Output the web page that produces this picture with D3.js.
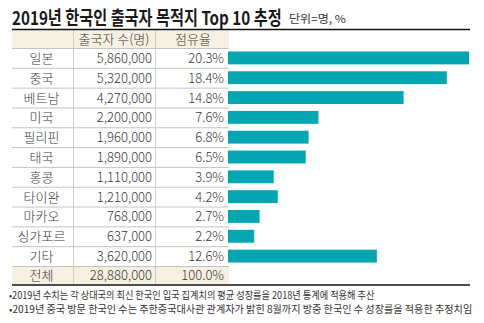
<!DOCTYPE html>
<html><head><meta charset="utf-8">
<script src="https://cdn.jsdelivr.net/npm/d3@7"></script>
<style>
body{margin:0;background:#fff;}
svg{display:block;font-family:"Noto Sans CJK KR","Noto Sans",sans-serif;}
</style></head><body>
<svg id="c" width="484" height="323"></svg>
<script>
const categories = ["일본","중국","베트남","미국","필리핀","태국","홍콩","타이완","마카오","싱가포르","기타"];
const counts = [5860000,5320000,4270000,2200000,1960000,1890000,1110000,1210000,768000,637000,3620000];
const shares = ["20.3%","18.4%","14.8%","7.6%","6.8%","6.5%","3.9%","4.2%","2.7%","2.2%","12.6%"];
const totalLabel = "전체";
const totalCount = "28,880,000";
const totalShare = "100.0%";
const headers = ["출국자 수(명)","점유율"];
const title = "2019년 한국인 출국자 목적지 Top 10 추정";
const unit = "단위=명, %";
const notes = ["•2019년 수치는 각 상대국의 최신 한국인 입국 집계치의 평균 성장률을 2018년 통계에 적용해 추산",
               "•2019년 중국 방문 한국인 수는 주한중국대사관 관계자가 밝힌 8월까지 방중 한국인 수 성장률을 적용한 추정치임"];

const svg = d3.select("#c");
const fmt = d3.format(",");
const L = 12, C1 = 73, C2 = 155, T = 229, R = 470;
const headTop = 30, bodyTop = 48, bodyBot = 266, totBot = 284;

const rowBand = d3.scaleBand().domain(categories).range([bodyTop, bodyBot]);
const barBand = d3.scaleBand().domain(categories).range([bodyTop, bodyBot]).paddingInner(0.35).paddingOuter(0.175);
const x = d3.scaleLinear().domain([0, d3.max(counts)]).range([T - 1, R - 1]);

// condensed text: scale horizontally to a target width
function fitText(sel, x0, y0, w) {
  const n = sel.node().getComputedTextLength();
  const k = w / n;
  sel.attr("x", 0).attr("y", 0).attr("transform", `translate(${x0},${y0}) scale(${k},1)`);
  return sel;
}

// title
fitText(svg.append("text").attr("font-size", 19).attr("font-weight", 700).attr("fill", "#1a1a1a").text(title), L, 24.5, 270);
fitText(svg.append("text").attr("font-size", 11).attr("fill", "#333").text(unit), 289, 23, 57);

// header & total backgrounds
svg.append("rect").attr("x", L).attr("y", headTop).attr("width", T - L).attr("height", bodyTop - headTop).attr("fill", "#f5f0e1");
svg.append("rect").attr("x", L).attr("y", bodyBot).attr("width", T - L).attr("height", totBot - bodyBot).attr("fill", "#f5f0e1");

// row separators
const seps = categories.map(c => rowBand(c));
seps.push(bodyBot);
svg.selectAll("line.rs").data(seps).join("line").attr("class", "rs")
  .attr("x1", L).attr("x2", T).attr("y1", d => d + 0.5).attr("y2", d => d + 0.5)
  .attr("stroke", "#b5b5b5").attr("stroke-width", 0.8);
// column separators
svg.selectAll("line.cs").data([C1, C2]).join("line").attr("class", "cs")
  .attr("x1", d => d + 0.5).attr("x2", d => d + 0.5).attr("y1", headTop).attr("y2", totBot)
  .attr("stroke", "#c4c4c4").attr("stroke-width", 0.8);

// top & bottom rules
svg.append("line").attr("x1", L).attr("x2", R).attr("y1", headTop - 0.5).attr("y2", headTop - 0.5).attr("stroke", "#111").attr("stroke-width", 1.3);
svg.append("line").attr("x1", L).attr("x2", R).attr("y1", totBot + 1).attr("y2", totBot + 1).attr("stroke", "#111").attr("stroke-width", 1.3);

// header text
const tf = {size: 13, fill: "#3a3a3a"};
svg.append("text").attr("x", (C1 + C2) / 2).attr("y", 44).attr("text-anchor", "middle").attr("font-size", tf.size).attr("fill", tf.fill).attr("font-weight", 300).text(headers[0]);
svg.append("text").attr("x", (C2 + T) / 2 + 1).attr("y", 44).attr("text-anchor", "middle").attr("font-size", tf.size).attr("fill", tf.fill).attr("font-weight", 300).text(headers[1]);

// body text
const rows = svg.selectAll("g.row").data(categories).join("g").attr("class", "row")
  .attr("transform", c => `translate(0,${rowBand(c) + rowBand.bandwidth() / 2 + 5})`);
rows.append("text").attr("x", (L + C1) / 2 - 1).attr("text-anchor", "middle").attr("font-size", tf.size).attr("fill", tf.fill).attr("font-weight", 300).text(c => c);
rows.append("text").attr("x", C2 - 3).attr("text-anchor", "end").attr("font-size", tf.size).attr("fill", tf.fill).attr("font-weight", 300).text((c, i) => fmt(counts[i]));
rows.append("text").attr("x", T - 5).attr("text-anchor", "end").attr("font-size", tf.size).attr("fill", tf.fill).attr("font-weight", 300).text((c, i) => shares[i]);

const ty = (bodyBot + totBot) / 2 + 5;
svg.append("text").attr("x", (L + C1) / 2 - 1).attr("y", ty).attr("text-anchor", "middle").attr("font-size", tf.size).attr("fill", tf.fill).attr("font-weight", 300).text(totalLabel);
svg.append("text").attr("x", C2 - 3).attr("y", ty).attr("text-anchor", "end").attr("font-size", tf.size).attr("fill", tf.fill).attr("font-weight", 300).text(totalCount);
svg.append("text").attr("x", T - 5).attr("y", ty).attr("text-anchor", "end").attr("font-size", tf.size).attr("fill", tf.fill).attr("font-weight", 300).text(totalShare);

// bars
svg.selectAll("rect.bar").data(categories).join("rect").attr("class", "bar")
  .attr("x", x(0)).attr("y", c => barBand(c)).attr("height", barBand.bandwidth())
  .attr("width", (c, i) => x(counts[i]) - x(0)).attr("fill", "#04a6b1");

// notes
fitText(svg.append("text").attr("font-size", 10).attr("fill", "#333").text(notes[0]), 9, 299, 366);
fitText(svg.append("text").attr("font-size", 10).attr("fill", "#333").text(notes[1]), 9, 313, 464);
</script></body></html>
